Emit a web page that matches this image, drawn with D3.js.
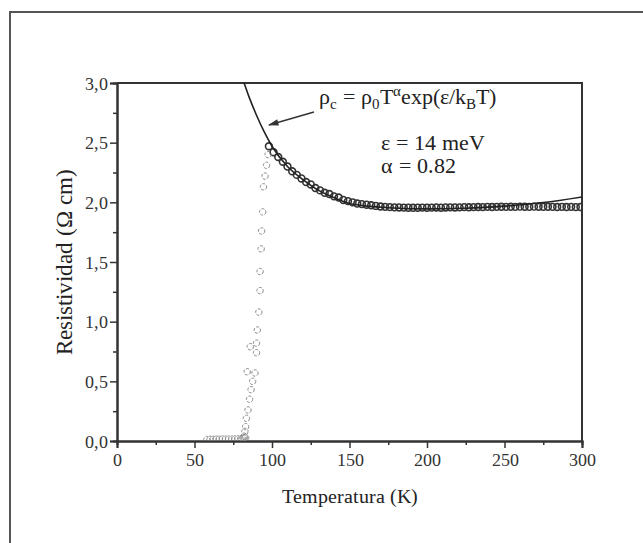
<!DOCTYPE html>
<html>
<head>
<meta charset="utf-8">
<script src="https://cdn.jsdelivr.net/npm/d3@7"></script>
<style>
  @font-face { font-family: "ChartSerif"; src: local("Liberation Serif"), local("LiberationSerif"), local("Times New Roman"); }
</style>
</head>
<body style="margin:0">
<svg width="643" height="543"></svg>
<script>
// measured data: normal state band (T in K, rho in Ohm cm)
const bandT = [98,101,104,107,110,113,116,119,122,125,128,131,134,137,140,143,146,149,152,155,158,161,164,167,170,173,176,179,182,185,188,191,194,197,200,203,206,209,212,215,218,221,224,227,230,233,236,239,242,245,248,251,254,257,260,263,266,269,272,275,278,281,284,287,290,293,296,299];
const bandR = [2.47,2.42,2.38,2.34,2.30,2.26,2.23,2.20,2.17,2.15,2.12,2.10,2.08,2.07,2.05,2.04,2.02,2.01,2.00,1.99,1.985,1.98,1.975,1.97,1.965,1.962,1.96,1.958,1.957,1.956,1.955,1.954,1.955,1.956,1.955,1.956,1.957,1.955,1.957,1.958,1.957,1.958,1.96,1.959,1.96,1.961,1.96,1.962,1.961,1.962,1.963,1.962,1.963,1.962,1.964,1.963,1.962,1.964,1.963,1.962,1.963,1.962,1.961,1.962,1.961,1.962,1.96,1.961];

// superconducting transition points
const transT = [97.5,96.5,95.5,94.5,94,93.3,93,92.3,92.3,91.5,90.5,90,90,86,89,84,87.5,86.5,85.5,84.5,83.5,83,82.5,82];
const transR = [2.40,2.31,2.22,2.13,1.92,1.76,1.61,1.42,1.26,1.08,0.93,0.82,0.74,0.79,0.57,0.58,0.50,0.43,0.35,0.26,0.19,0.12,0.08,0.04];

// zero-resistance tail
const tailT = [58,60,62,64,66,68,70,72,74,76,78,80,81,82,83];
const tailR = [0.012,0.014,0.013,0.015,0.014,0.016,0.015,0.016,0.015,0.017,0.018,0.02,0.022,0.025,0.03];

// fit curve
const fitT = [81,85,90,95,100,110,120,130,140,150,160,175,200,225,250,275,300];
const fitR = [3.04,2.89,2.73,2.59,2.47,2.30,2.19,2.10,2.04,1.99,1.97,1.955,1.945,1.95,1.968,1.998,2.045];

const xTicks = [0,50,100,150,200,250,300];
const yTicks = [0,0.5,1,1.5,2,2.5,3];

const svg = d3.select("svg");

// serif text helper
function serif(sel) {
  sel.style("font-family", "ChartSerif, 'Liberation Serif', 'Times New Roman'");
  return sel;
}

// outer frame (left and top edges)
svg.append("path")
   .attr("d", "M10,543 L10,12 L643,12")
   .attr("fill", "none")
   .attr("stroke", "#555")
   .attr("stroke-width", 2);

const x = d3.scaleLinear().domain([0, 300]).range([117, 582]);
const y = d3.scaleLinear().domain([0, 3]).range([441, 83]);

const fmt = d => d3.format(".1f")(d).replace(".", ",");

// bottom axis
const xAxis = svg.append("g")
   .attr("transform", "translate(0," + y(0) + ")")
   .call(d3.axisBottom(x).tickValues(xTicks).tickSize(7).tickPadding(5).tickFormat(d3.format("d")));
xAxis.append("g")
   .call(d3.axisBottom(x).tickValues(d3.range(25, 300, 50)).tickSize(4).tickFormat(""));

// left axis
const yAxis = svg.append("g")
   .attr("transform", "translate(" + x(0) + ",0)")
   .call(d3.axisLeft(y).tickValues(yTicks).tickSize(7).tickPadding(2).tickFormat(fmt));
yAxis.append("g")
   .call(d3.axisLeft(y).tickValues(d3.range(0.25, 3, 0.5)).tickSize(4).tickFormat(""));

svg.selectAll(".domain").attr("stroke", "#333").attr("stroke-width", 2);
svg.selectAll(".tick line").attr("stroke", "#333").attr("stroke-width", 1.5);
serif(svg.selectAll(".tick text"))
   .attr("font-size", 18)
   .attr("fill", "#333");
yAxis.selectAll(".tick text").attr("dy", "0.35em");

// top and right box edges
svg.append("path")
   .attr("d", "M" + x(0) + "," + y(3) + " L" + x(300) + "," + y(3) + " L" + x(300) + "," + y(0))
   .attr("fill", "none")
   .attr("stroke", "#333")
   .attr("stroke-width", 2);

svg.append("clipPath").attr("id", "clip")
   .append("rect")
   .attr("x", x(0)).attr("y", y(3))
   .attr("width", x(300) - x(0)).attr("height", y(0) - y(3));

const plot = svg.append("g").attr("clip-path", "url(#clip)");

// data circles: dense band is darker, transition points lighter
const band = bandT.map((t, i) => [t, bandR[i]]);
const sparse = transT.map((t, i) => [t, transR[i]])
   .concat(tailT.map((t, i) => [t, tailR[i]]));

plot.selectAll("circle.band")
   .data(band)
   .enter().append("circle")
   .attr("class", "band")
   .attr("cx", d => x(d[0]))
   .attr("cy", d => y(d[1]))
   .attr("r", 3.4)
   .attr("fill", "none")
   .attr("stroke", "#333")
   .attr("stroke-width", 1.6);

plot.selectAll("circle.sparse")
   .data(sparse)
   .enter().append("circle")
   .attr("class", "sparse")
   .attr("cx", d => x(d[0]))
   .attr("cy", d => y(d[1]))
   .attr("r", 3.2)
   .attr("fill", "none")
   .attr("stroke", "#888")
   .attr("stroke-width", 1)
   .attr("stroke-dasharray", "3,1.5");

// fit curve
const line = d3.line()
   .x(d => x(d[0]))
   .y(d => y(d[1]))
   .curve(d3.curveMonotoneX);

plot.append("path")
   .datum(fitT.map((t, i) => [t, fitR[i]]))
   .attr("d", line)
   .attr("fill", "none")
   .attr("stroke", "#222")
   .attr("stroke-width", 1.6);

// annotation arrow
svg.append("defs").append("marker")
   .attr("id", "arr")
   .attr("viewBox", "0 0 10 10")
   .attr("refX", 9).attr("refY", 5)
   .attr("markerWidth", 9).attr("markerHeight", 7)
   .attr("orient", "auto")
   .append("path")
   .attr("d", "M0,2 L10,5 L0,8 Z")
   .attr("fill", "#333");

svg.append("line")
   .attr("x1", 314).attr("y1", 112)
   .attr("x2", 269).attr("y2", 125)
   .attr("stroke", "#333")
   .attr("stroke-width", 1.5)
   .attr("marker-end", "url(#arr)");

// formula
const f = serif(svg.append("text"))
   .attr("x", 319).attr("y", 104)
   .attr("font-size", 22)
   .attr("fill", "#222");
f.append("tspan").text("ρ");
f.append("tspan").attr("dy", 5).attr("font-size", 15).text("c");
f.append("tspan").attr("dy", -5).text(" = ρ");
f.append("tspan").attr("dy", 5).attr("font-size", 15).text("0");
f.append("tspan").attr("dy", -5).text("T");
f.append("tspan").attr("dy", -8).attr("font-size", 15).text("α");
f.append("tspan").attr("dy", 8).text("exp(ε/k");
f.append("tspan").attr("dy", 5).attr("font-size", 15).text("B");
f.append("tspan").attr("dy", -5).text("T)");

serif(svg.append("text"))
   .attr("x", 381).attr("y", 150)
   .attr("font-size", 22)
   .attr("fill", "#222")
   .text("ε = 14 meV");

serif(svg.append("text"))
   .attr("x", 381).attr("y", 173)
   .attr("font-size", 22)
   .attr("fill", "#222")
   .text("α = 0.82");

// axis titles
serif(svg.append("text"))
   .attr("x", (x(0) + x(300)) / 2)
   .attr("y", 503)
   .attr("text-anchor", "middle")
   .attr("font-size", 20)
   .attr("fill", "#222")
   .text("Temperatura (K)");

serif(svg.append("text"))
   .attr("transform", "translate(72," + (y(1.5)) + ") rotate(-90)")
   .attr("text-anchor", "middle")
   .attr("font-size", 23)
   .attr("fill", "#222")
   .text("Resistividad (Ω cm)");
</script>
</body>
</html>
